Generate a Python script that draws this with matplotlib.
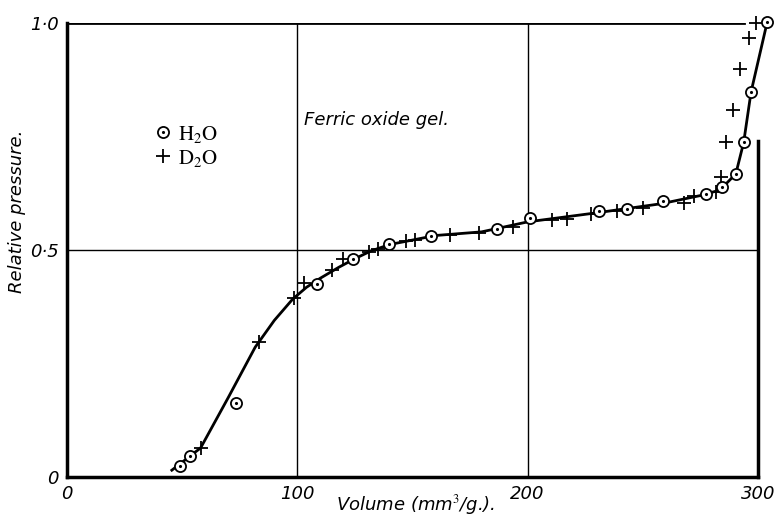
import matplotlib.pyplot as plt
from matplotlib.lines import Line2D
from matplotlib.legend_handler import HandlerTuple

plt.rcParams['mathtext.fontset'] = 'stix'

# Adsorption isotherm, ferric oxide gel
h2o_vol = [49, 53.5, 73.5, 108.7, 124, 140, 158, 186.8, 201, 231, 243.3,
           258.6, 277.4, 284.6, 290.4, 293.8, 297, 304]
h2o_p = [0.024, 0.046, 0.164, 0.425, 0.48, 0.514, 0.532, 0.547, 0.571, 0.585,
         0.59, 0.607, 0.624, 0.638, 0.668, 0.737, 0.848, 1.002]

d2o_vol = [58, 83.2, 98.7, 102.7, 115, 119.8, 131, 135, 147, 151.3, 166.5,
           178.8, 193.6, 210.7, 217.2, 227.4, 239, 249.9, 268, 272.3, 281.7,
           284, 286, 289, 292.2, 296.2, 299]
d2o_p = [0.064, 0.297, 0.395, 0.428, 0.457, 0.48, 0.495, 0.502, 0.52, 0.523,
         0.533, 0.538, 0.551, 0.566, 0.568, 0.58, 0.587, 0.592, 0.604, 0.62,
         0.627, 0.66, 0.738, 0.809, 0.898, 0.967, 1.0]

# drawn curve through the points
curve_vol = [45.5, 58, 70, 81.7, 90, 98, 104, 110, 118, 125, 132, 140, 160,
             180, 200, 230, 258, 275, 282, 286, 290.4, 293.8, 297, 304]
curve_p = [0.015, 0.064, 0.175, 0.286, 0.345, 0.392, 0.418, 0.438, 0.462,
           0.481, 0.498, 0.512, 0.532, 0.54, 0.562, 0.582, 0.602, 0.62, 0.63,
           0.645, 0.668, 0.737, 0.848, 1.002]

fig = plt.figure(figsize=(7.75, 5.24), dpi=100)
ax = fig.add_axes([0.0865, 0.0897, 0.8915, 0.8663])

ax.plot(curve_vol, curve_p, color='black', lw=2.0, zorder=2, clip_on=False)
ax.plot(d2o_vol, d2o_p, ls='none', marker='+', ms=10, mew=1.3, color='black',
        zorder=3, clip_on=False)
ax.plot(h2o_vol, h2o_p, ls='none', marker='o', ms=8, mew=1.3,
        mfc='white', mec='black', zorder=4, clip_on=False)
ax.plot(h2o_vol, h2o_p, ls='none', marker='.', ms=2.5, color='black',
        zorder=5, clip_on=False)

# frame and grid lines as in the original figure
ax.axvline(100, color='black', lw=1.0, zorder=1)
ax.axvline(200, color='black', lw=1.0, zorder=1)
ax.axhline(0.5, color='black', lw=1.0, zorder=1)
ax.axhline(1.0, xmax=0.98, color='black', lw=2.0, zorder=1)

ax.set_xlim(0, 300)
ax.set_ylim(0, 1.0)
ax.spines['top'].set_visible(False)
for s in ['left', 'bottom', 'right']:
    ax.spines[s].set_linewidth(2.5)
ax.spines['right'].set_bounds(0, 0.74)

ax.set_xticks([0, 100, 200, 300])
ax.set_xticklabels(['0', '100', '200', '300'])
ax.set_yticks([0, 0.5, 1.0])
ax.set_yticklabels(['0', '0\u00b75', '1\u00b70'])
ax.tick_params(length=0, labelsize=13, pad=6)
for lab in ax.get_xticklabels() + ax.get_yticklabels():
    lab.set_fontstyle('italic')

ax.set_xlabel('Volume (mm$^3$/g.).', fontsize=13, style='italic')
ax.xaxis.set_label_coords(0.504, -0.035)
ax.set_ylabel('Relative pressure.', fontsize=13, style='italic')
ax.yaxis.set_label_coords(-0.06, 0.585)

ax.text(103, 0.775, 'Ferric oxide gel.', fontsize=13, style='italic')

h_circ = (Line2D([], [], ls='none', marker='o', ms=8, mew=1.3, mfc='white', mec='black'),
          Line2D([], [], ls='none', marker='.', ms=2.5, color='black'))
h_plus = Line2D([], [], ls='none', marker='+', ms=10, mew=1.3, color='black')
ax.legend([h_circ, h_plus], [r'$\mathrm{H_2O}$', r'$\mathrm{D_2O}$'],
          handler_map={tuple: HandlerTuple(ndivide=1, pad=0)},
          loc='upper left', bbox_to_anchor=(0.1, 0.82), frameon=False,
          fontsize=15, handlelength=0.8, handletextpad=0.3, labelspacing=0.15)

fig.savefig('out.png', dpi=100)
